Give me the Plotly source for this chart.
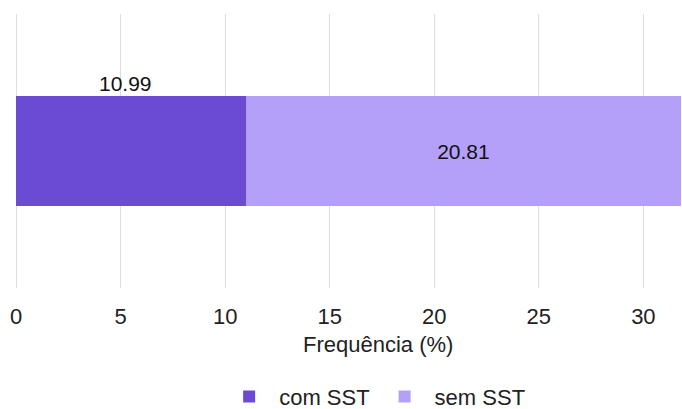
import plotly.graph_objects as go

# Frequência de empresas com e sem SST
categorias = [""]
series_nomes = ["com SST", "sem SST"]
com_sst = [10.99]
sem_sst = [20.81]
cores = ["#6B4BD3", "#B4A0F8"]
ticks_x = [0, 5, 10, 15, 20, 25, 30]
titulo_x = "Frequência (%)"

FONTE = "Liberation Sans, Arial, Helvetica"
TAM = 22
TAM_ROTULO = 21

fig = go.Figure()
fig.add_trace(go.Bar(
    y=categorias, x=com_sst, name=series_nomes[0], orientation="h",
    marker=dict(color=cores[0], line=dict(width=0)),
))
fig.add_trace(go.Bar(
    y=categorias, x=sem_sst, name=series_nomes[1], orientation="h",
    marker=dict(color=cores[1], line=dict(width=0)),
    texttemplate="%{x:.2f}", textposition="inside", insidetextanchor="middle",
    textfont=dict(color="#111111", size=TAM_ROTULO, family=FONTE),
))

# Rótulo do primeiro segmento acima da barra
fig.add_annotation(
    x=com_sst[0] / 2, y=0, xref="x", yref="y",
    text=f"{com_sst[0]:.2f}", showarrow=False, yshift=68, xshift=-5,
    font=dict(color="#111111", size=TAM_ROTULO, family=FONTE),
)

# Título do eixo x
fig.add_annotation(
    x=0.545, y=-0.207, xref="paper", yref="paper",
    xanchor="center", yanchor="middle", showarrow=False,
    text=titulo_x, font=dict(color="#222222", size=TAM, family=FONTE),
)

total = com_sst[0] + sem_sst[0]
fig.update_layout(
    width=682, height=409,
    barmode="stack", bargap=0.6,
    plot_bgcolor="white", paper_bgcolor="white",
    margin=dict(l=15, r=1, t=14, b=121),
    font=dict(family=FONTE, size=TAM, color="#222222"),
    xaxis=dict(
        range=[-0.05, total], tickvals=ticks_x, showgrid=True, gridcolor="#DDDDDD",
        gridwidth=1, zeroline=False, showline=False, ticks="",
        ticklabelstandoff=13,
        tickfont=dict(size=TAM, color="#222222"),
    ),
    yaxis=dict(showticklabels=False, showgrid=False, zeroline=False, ticks=""),
    legend=dict(
        orientation="h", x=0.54, xanchor="center",
        yref="container", y=0.03, yanchor="middle",
        itemwidth=50,
        font=dict(size=TAM, color="#222222"), traceorder="normal",
    ),
)

fig.write_html("out.html")
